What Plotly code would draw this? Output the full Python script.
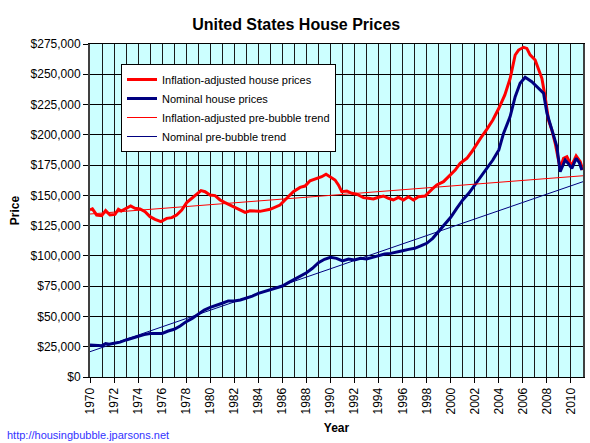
import plotly.graph_objects as go

# ---- Data (values in US dollars) ----
real_years = [1970.0, 1970.2, 1970.55, 1970.97, 1971.3, 1971.66, 1972.08, 1972.36, 1972.6, 1973.05,
              1973.38, 1973.74, 1974.16, 1974.58, 1974.99, 1975.41, 1975.9, 1976.38, 1976.8, 1977.2,
              1977.63, 1978.04, 1978.46, 1978.88, 1979.23, 1979.57, 1979.98, 1980.4, 1980.82, 1981.23,
              1981.79, 1982.34, 1982.9, 1983.31, 1983.73, 1984.14, 1984.98, 1985.8, 1986.36, 1986.91,
              1987.47, 1987.88, 1988.3, 1988.86, 1989.27, 1989.63, 1989.97, 1990.38, 1990.66, 1990.94,
              1991.36, 1991.77, 1992.19, 1992.74, 1993.16, 1993.57, 1993.99, 1994.41, 1994.82, 1995.23,
              1995.65, 1996.07, 1996.48, 1996.9, 1997.31, 1997.87, 1998.43, 1998.84, 1999.4, 1999.81,
              2000.37, 2000.78, 2001.34, 2001.75, 2002.0, 2002.5, 2003.0, 2003.5, 2004.0, 2004.5,
              2004.94, 2005.36, 2005.64, 2006.05, 2006.33, 2006.6, 2007.02, 2007.3, 2007.58, 2007.85,
              2008.13, 2008.41, 2008.69, 2008.96, 2009.1, 2009.38, 2009.66, 2009.93, 2010.1, 2010.43,
              2010.77, 2010.99]
real_prices = [138000, 138800, 133800, 133300, 137400, 133800, 134300, 138500, 137000, 139300,
               141200, 139300, 138800, 136500, 132400, 130200, 128300, 131000, 131600, 133800,
               137900, 144000, 147600, 151700, 153900, 153000, 150300, 149800, 146200, 144000,
               141200, 138500, 136000, 137300, 137300, 136800, 138500, 142000, 147600, 153000,
               156600, 157700, 162100, 164000, 165400, 167400, 165400, 162700, 158600, 153000,
               153600, 151700, 150900, 148100, 147600, 147000, 148400, 149500, 147600, 146200,
               148400, 146200, 148900, 146200, 148900, 149500, 155000, 158600, 161300, 165400,
               170900, 176500, 180600, 186000, 190000, 197500, 204500, 212200, 221900, 232900,
               246500, 265900, 270000, 272300, 271400, 266000, 261800, 254900, 246700, 231500,
               212200, 204000, 193000, 179200, 172300, 180600, 181900, 176500, 175500, 182500,
               177800, 171000]

nominal_years = [1970.0, 1970.5, 1971.0, 1971.3, 1971.6, 1972.0, 1972.5, 1973.0, 1973.5, 1974.0,
                 1974.5, 1975.0, 1975.5, 1976.0, 1976.5, 1977.0, 1977.5, 1978.0, 1978.5, 1979.0,
                 1979.5, 1980.0, 1980.5, 1981.0, 1981.5, 1982.0, 1982.5, 1983.0, 1983.5, 1984.0,
                 1984.5, 1985.0, 1985.5, 1986.0, 1986.5, 1987.0, 1987.5, 1988.0, 1988.5, 1989.0,
                 1989.5, 1990.0, 1990.5, 1991.0, 1991.5, 1992.0, 1992.5, 1993.0, 1993.5, 1994.0,
                 1994.5, 1995.0, 1995.5, 1996.0, 1996.5, 1997.0, 1997.5, 1998.0, 1998.5, 1999.0,
                 1999.5, 2000.0, 2000.5, 2001.0, 2001.5, 2002.0, 2002.5, 2003.0, 2003.5, 2004.0,
                 2004.39, 2004.94, 2005.36, 2005.77, 2006.19, 2006.74, 2007.3, 2007.72, 2008.0, 2008.41,
                 2008.83, 2009.1, 2009.52, 2009.8, 2010.07, 2010.43, 2010.7, 2010.9]
nominal_prices = [26400, 26000, 25900, 27600, 27000, 27800, 28800, 30600, 32200, 33900,
                  35000, 36000, 36000, 36000, 38000, 39400, 42100, 45700, 48400, 52000,
                  55300, 57500, 59500, 60900, 62800, 62800, 63600, 65000, 66800, 69100,
                  70500, 71800, 73200, 75100, 77900, 80700, 82800, 86100, 89800, 94400,
                  97200, 98800, 98000, 95800, 97400, 96600, 98000, 97400, 98800, 100200,
                  101600, 102100, 103500, 104300, 105400, 106300, 108200, 110400, 114500, 120000,
                  125500, 131900, 139300, 146200, 151700, 158600, 165400, 171500, 179200, 187500,
                  201200, 215000, 231500, 242500, 247500, 243900, 238400, 234300, 217800, 204000,
                  190200, 169500, 179200, 176000, 172300, 180600, 177000, 171000]

trend_years = [1970, 2011]
real_trend = [134600, 166200]
nominal_trend = [20900, 161300]

x_ticks = list(range(1970, 2011, 2))

FONT = "Arial, Liberation Sans, sans-serif"

fig = go.Figure()
fig.add_trace(go.Scatter(x=real_years, y=real_prices, mode="lines",
                         name="Inflation-adjusted house prices",
                         line=dict(color="#FF0000", width=3)))
fig.add_trace(go.Scatter(x=nominal_years, y=nominal_prices, mode="lines",
                         name="Nominal house prices",
                         line=dict(color="#000080", width=3)))
fig.add_trace(go.Scatter(x=trend_years, y=real_trend, mode="lines",
                         name="Inflation-adjusted pre-bubble trend",
                         line=dict(color="#FF0000", width=1)))
fig.add_trace(go.Scatter(x=trend_years, y=nominal_trend, mode="lines",
                         name="Nominal pre-bubble trend",
                         line=dict(color="#000080", width=1)))

fig.update_layout(
    width=590, height=443,
    margin=dict(l=90, r=7, t=44, b=66),
    paper_bgcolor="white",
    plot_bgcolor="#CCFFFF",
    font=dict(family=FONT, size=12, color="black"),
    title=dict(text="United States House Prices", x=0.502, xanchor="center",
               y=1 - 24 / 443, yanchor="middle",
               font=dict(family=FONT, size=16, color="black", weight="bold")),
    showlegend=True,
    legend=dict(x=(121 - 90) / 493, y=(377 - 64) / 333, xanchor="left", yanchor="top",
                bgcolor="white", bordercolor="black", borderwidth=1,
                font=dict(family=FONT, size=11, color="black"),
                tracegroupgap=0),
    xaxis=dict(range=[1970, 2011], tickvals=x_ticks, tickangle=-90,
               ticks="outside", ticklen=5, tickcolor="black",
               showgrid=True, gridcolor="#1a1a1a", gridwidth=1,
               minor=dict(dtick=1, tick0=1970, showgrid=True, gridcolor="#1a1a1a", gridwidth=1),
               showline=True, linecolor="black", linewidth=1, mirror=True,
               zeroline=False, automargin=False,
               tickfont=dict(family=FONT, size=12, color="black"),
               title=dict(text="Year", standoff=10,
                          font=dict(family=FONT, size=12, color="black", weight="bold"))),
    yaxis=dict(range=[0, 275000], dtick=25000, tick0=0,
               tickprefix="$", tickformat=",d",
               ticks="outside", ticklen=5, tickcolor="black",
               showgrid=True, gridcolor="black", gridwidth=1,
               showline=True, linecolor="#404040", linewidth=2, mirror=True,
               zeroline=False, automargin=False,
               tickfont=dict(family=FONT, size=12, color="black"),
               title=dict(text="Price", standoff=8,
                          font=dict(family=FONT, size=12, color="black", weight="bold"))),
    annotations=[dict(text="http://housingbubble.jparsons.net", xref="paper", yref="paper",
                      x=(5 - 90) / 493, y=(377 - 435) / 333, xanchor="left", yanchor="middle",
                      showarrow=False, font=dict(family=FONT, size=11, color="#3333FF"))],
)

fig.write_html("out.html",
               config={"displayModeBar": False},
               post_script="document.body.style.margin='0';document.body.style.padding='0';")
